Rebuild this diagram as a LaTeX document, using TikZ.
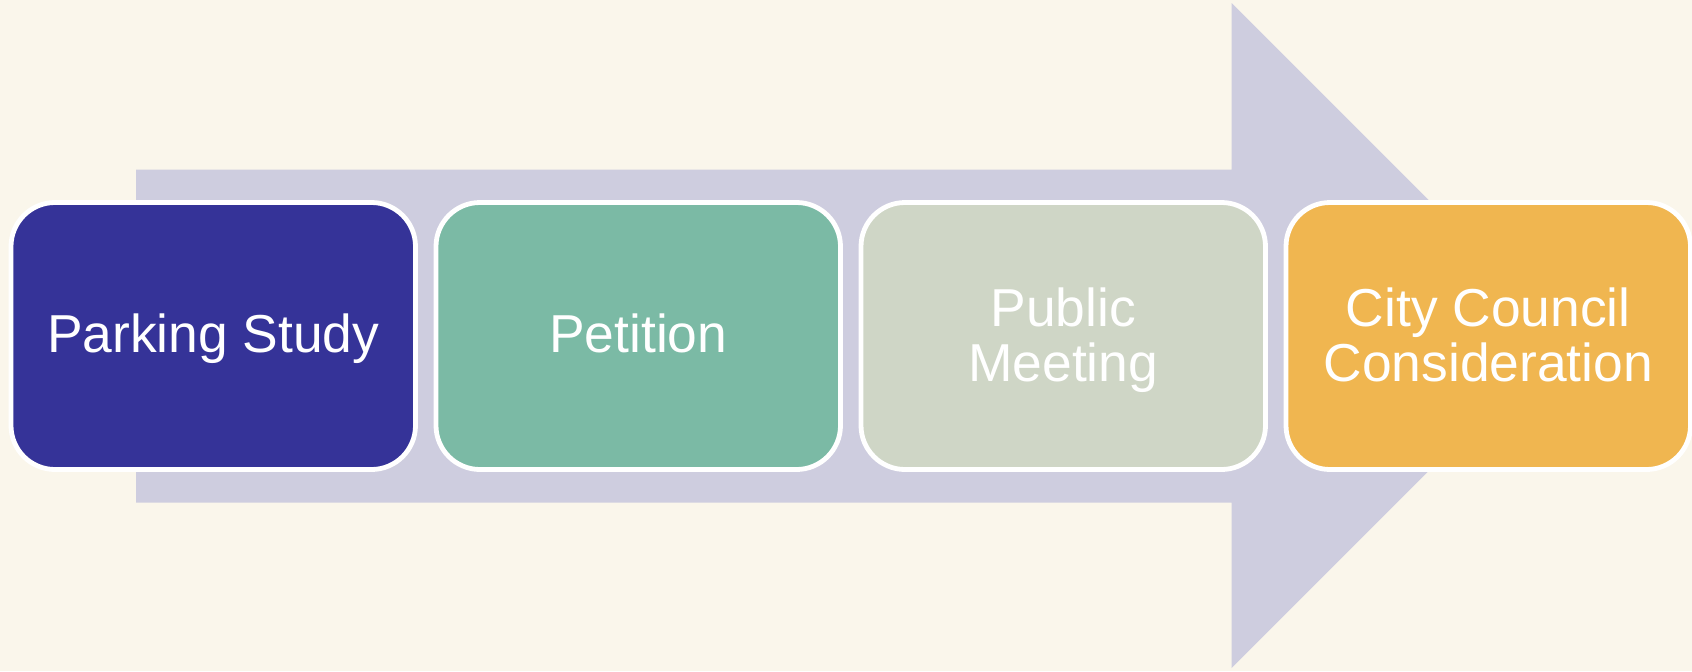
\documentclass[tikz,border=0pt]{standalone}
\usepackage{fontspec}
\setmainfont{Liberation Sans}
\definecolor{bgc}{HTML}{FAF6EB}
\definecolor{arrowc}{HTML}{CECDDF}
\definecolor{cone}{HTML}{353398}
\definecolor{ctwo}{HTML}{7BBAA5}
\definecolor{cthree}{HTML}{CFD6C6}
\definecolor{cfour}{HTML}{F0B650}
\begin{document}
\begin{tikzpicture}[x=0.5pt,y=-0.5pt,
  stepbox/.style={rectangle, rounded corners=22pt, draw=white, line width=2.4pt,
    minimum width=202.25pt, minimum height=133.5pt, inner sep=0pt},
  lbl/.style={text=white, inner sep=0pt, align=center,
    font=\fontsize{26.7pt}{27.2pt}\selectfont}]
\fill[bgc] (0,0) rectangle (1692,671);
\useasboundingbox (0,0) rectangle (1692,671);
\fill[arrowc] (136,169.5) -- (1231.7,169.5) -- (1231.7,3) -- (1564.2,335.5)
  -- (1231.7,668) -- (1231.7,502.7) -- (136,502.7) -- cycle;
\node[stepbox, fill=cone]   (b1) at (213.25,336) {};
\node[stepbox, fill=ctwo]   (b2) at (638.25,336) {};
\node[stepbox, fill=cthree] (b3) at (1063.25,336) {};
\node[stepbox, fill=cfour]  (b4) at (1488.25,336) {};
\node[lbl, anchor=base]  (t1) at (213.25,352.5) {Parking Study};
\node[lbl, anchor=base]  (t2) at (638.25,352.5) {Petition};
\node[lbl, anchor=north] (t3) at (1063.25,287.5) {Public\\Meeting};
\node[lbl, anchor=north] (t4) at (1488.25,287.5) {City Council\\Consideration};
\end{tikzpicture}
\end{document}
